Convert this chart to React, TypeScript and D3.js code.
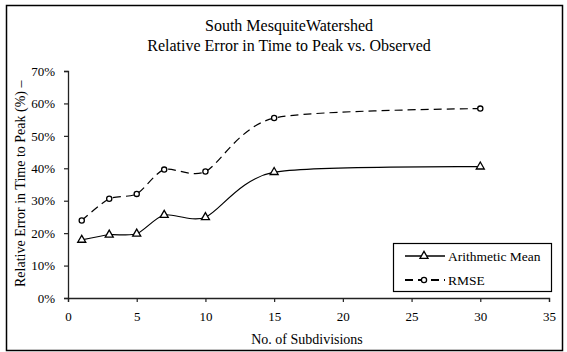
import { useEffect, useRef } from "react";
import * as d3 from "d3";

const subdivisions = [1, 3, 5, 7, 10, 15, 30];
const arithmeticMean = [17.9, 19.5, 19.8, 25.6, 24.9, 38.8, 40.5];
const rmse = [23.9, 30.6, 32.1, 39.6, 39.0, 55.5, 58.4];
const xTicks = [0, 5, 10, 15, 20, 25, 30, 35];
const yTicks = [0, 10, 20, 30, 40, 50, 60, 70];

const W = 567;
const H = 352;

const App = () => {
  const ref = useRef<SVGSVGElement>(null);

  useEffect(() => {
    const svg = d3.select(ref.current);
    svg.selectAll("*").remove();
    const font = '"Liberation Serif"';

    const margin = { left: 68, right: 18, top: 71, bottom: 54 };
    const x = d3.scaleLinear().domain([0, 35]).range([margin.left, W - margin.right]);
    const y = d3.scaleLinear().domain([0, 70]).range([H - margin.bottom, margin.top]);

    // outer frame
    svg.append("rect")
      .attr("x", 6.5).attr("y", 5.5)
      .attr("width", 556).attr("height", 345)
      .attr("fill", "white").attr("stroke", "black").attr("stroke-width", 1.5);

    // titles
    const title = svg.append("text")
      .attr("text-anchor", "middle").style("font-family", font).style("font-size", "16px");
    title.append("tspan").attr("x", 289).attr("y", 31).text("South MesquiteWatershed");
    title.append("tspan").attr("x", 289).attr("y", 50.5).text("Relative Error in Time to Peak vs. Observed");

    // axes
    const gx = svg.append("g")
      .attr("transform", `translate(0,${y(0)})`)
      .call(d3.axisBottom(x).tickValues(xTicks).tickSize(4).tickPadding(10).tickFormat(d3.format("d")));
    const gy = svg.append("g")
      .attr("transform", `translate(${x(0)},0)`)
      .call(d3.axisLeft(y).tickValues(yTicks).tickSize(4).tickPadding(9).tickFormat((d) => `${d}%`));
    [gx, gy].forEach((g) => {
      g.attr("font-family", null);
      g.select(".domain").attr("stroke", "#222").attr("stroke-width", 1.3);
      g.selectAll(".tick line").attr("stroke", "#222").attr("stroke-width", 1.2);
      g.selectAll("text").style("font-family", font).style("font-size", "13px").attr("fill", "black");
    });

    // axis labels
    svg.append("text")
      .attr("x", 307).attr("y", 344)
      .attr("text-anchor", "middle").style("font-family", font).style("font-size", "14px")
      .text("No. of Subdivisions");
    svg.append("text")
      .attr("transform", "translate(25,287) rotate(-90)")
      .attr("text-anchor", "start").style("font-family", font).style("font-size", "14px")
      .text("Relative Error in Time to Peak (%)  \u2013");

    const line = d3.line<number>()
      .x((_, i) => x(subdivisions[i]))
      .y((d) => y(d))
      .curve(d3.curveCardinal.tension(0.25));

    const tri = d3.symbol().type(d3.symbolTriangle).size(28);

    // arithmetic mean
    svg.append("path")
      .attr("d", line(arithmeticMean))
      .attr("fill", "none").attr("stroke", "black").attr("stroke-width", 1.2);
    svg.selectAll(".am")
      .data(arithmeticMean)
      .join("path")
      .attr("class", "am")
      .attr("transform", (d, i) => `translate(${x(subdivisions[i])},${y(d)})`)
      .attr("d", tri)
      .attr("fill", "white").attr("stroke", "black").attr("stroke-width", 1.3);

    // rmse
    svg.append("path")
      .attr("d", line(rmse))
      .attr("fill", "none").attr("stroke", "black").attr("stroke-width", 1.2)
      .attr("stroke-dasharray", "8,5");
    svg.selectAll(".rm")
      .data(rmse)
      .join("circle")
      .attr("class", "rm")
      .attr("cx", (_, i) => x(subdivisions[i]))
      .attr("cy", (d) => y(d))
      .attr("r", 2.6)
      .attr("fill", "white").attr("stroke", "black").attr("stroke-width", 1.3);

    // legend
    const lg = svg.append("g").attr("transform", "translate(393,243)");
    lg.append("rect")
      .attr("x", 0.5).attr("y", 0.5).attr("width", 158).attr("height", 48)
      .attr("fill", "white").attr("stroke", "black").attr("stroke-width", 1.2);
    lg.append("line").attr("x1", 12).attr("x2", 52).attr("y1", 13).attr("y2", 13)
      .attr("stroke", "black").attr("stroke-width", 1.3);
    lg.append("path").attr("transform", "translate(31,13)").attr("d", tri)
      .attr("fill", "white").attr("stroke", "black").attr("stroke-width", 1.3);
    lg.append("text").attr("x", 55).attr("y", 17.5)
      .style("font-family", font).style("font-size", "13.5px").text("Arithmetic Mean");
    lg.append("line").attr("x1", 12).attr("x2", 52).attr("y1", 37).attr("y2", 37)
      .attr("stroke", "black").attr("stroke-width", 2).attr("stroke-dasharray", "8,5");
    lg.append("circle").attr("cx", 31).attr("cy", 37).attr("r", 2.6)
      .attr("fill", "white").attr("stroke", "black").attr("stroke-width", 1.3);
    lg.append("text").attr("x", 55).attr("y", 41.5)
      .style("font-family", font).style("font-size", "13.5px").text("RMSE");
  }, []);

  return (
    <svg
      ref={ref}
      width={W}
      height={H}
      style={{ position: "absolute", left: 0, top: 0, background: "white" }}
    />
  );
};

export default App;
